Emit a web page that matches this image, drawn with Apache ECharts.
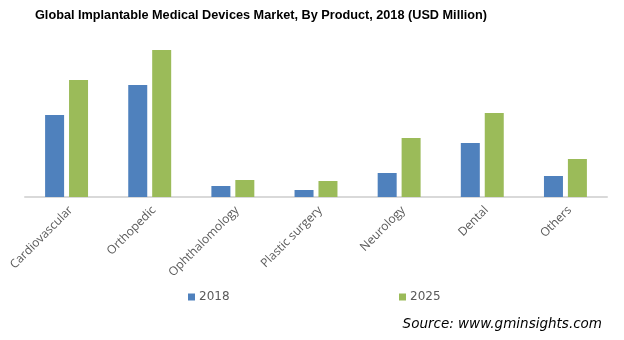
<!DOCTYPE html>
<html><head><meta charset="utf-8">
<script src="https://cdn.jsdelivr.net/npm/echarts@6/dist/echarts.min.js"></script>
<style>html,body{margin:0;padding:0;background:#fff}#c{width:624px;height:340px}</style>
</head><body><div id="c"></div>
<script>
const categories = ['Cardiovascular','Orthopedic','Ophthalomology','Plastic surgery','Neurology','Dental','Others'];
const values2018 = [82, 112, 11, 7, 24, 54, 21];
const values2025 = [117, 147, 17, 16, 59, 84, 38];
const seriesNames = ['2018','2025'];

const chart = echarts.init(document.getElementById('c'), null, {renderer:'canvas'});
chart.setOption({
  animation:false,
  title:{text:'Global Implantable Medical Devices Market, By Product, 2018 (USD Million)',left:35,top:9,padding:0,
    textStyle:{fontFamily:'Liberation Sans',fontWeight:'bold',fontSize:12.7,color:'#000'}},
  legend:[
    {data:[seriesNames[0]],left:188,top:291,padding:0,itemWidth:7,itemHeight:7,icon:'rect',
     textStyle:{fontFamily:'DejaVu Sans',fontSize:12,color:'#595959',padding:[0,0,0,-1]}},
    {data:[seriesNames[1]],left:399,top:291,padding:0,itemWidth:7,itemHeight:7,icon:'rect',
     textStyle:{fontFamily:'DejaVu Sans',fontSize:12,color:'#595959',padding:[0,0,0,-1]}}
  ],
  graphic:[{type:'text',right:22,top:317,style:{text:'Source: www.gminsights.com',
    font:'italic 13.5px "DejaVu Sans"',fill:'#000'}}],
  grid:{left:25,right:17,top:40,bottom:143},
  xAxis:{type:'category',data:categories,
    axisLine:{lineStyle:{color:'#d9d9d9',width:2}},axisTick:{show:false},
    axisLabel:{rotate:45,interval:0,margin:7,verticalAlign:'top',fontFamily:'Open Sans',fontSize:12,color:'#595959'}},
  yAxis:{type:'value',min:0,max:157,show:false,splitLine:{show:false}},
  series:[
    {name:seriesNames[0],type:'bar',data:values2018,barWidth:19,barGap:'26%',itemStyle:{color:'#4f81bd'}},
    {name:seriesNames[1],type:'bar',data:values2025,barWidth:19,barGap:'26%',itemStyle:{color:'#9bbb59'}}
  ]
});
</script></body></html>
